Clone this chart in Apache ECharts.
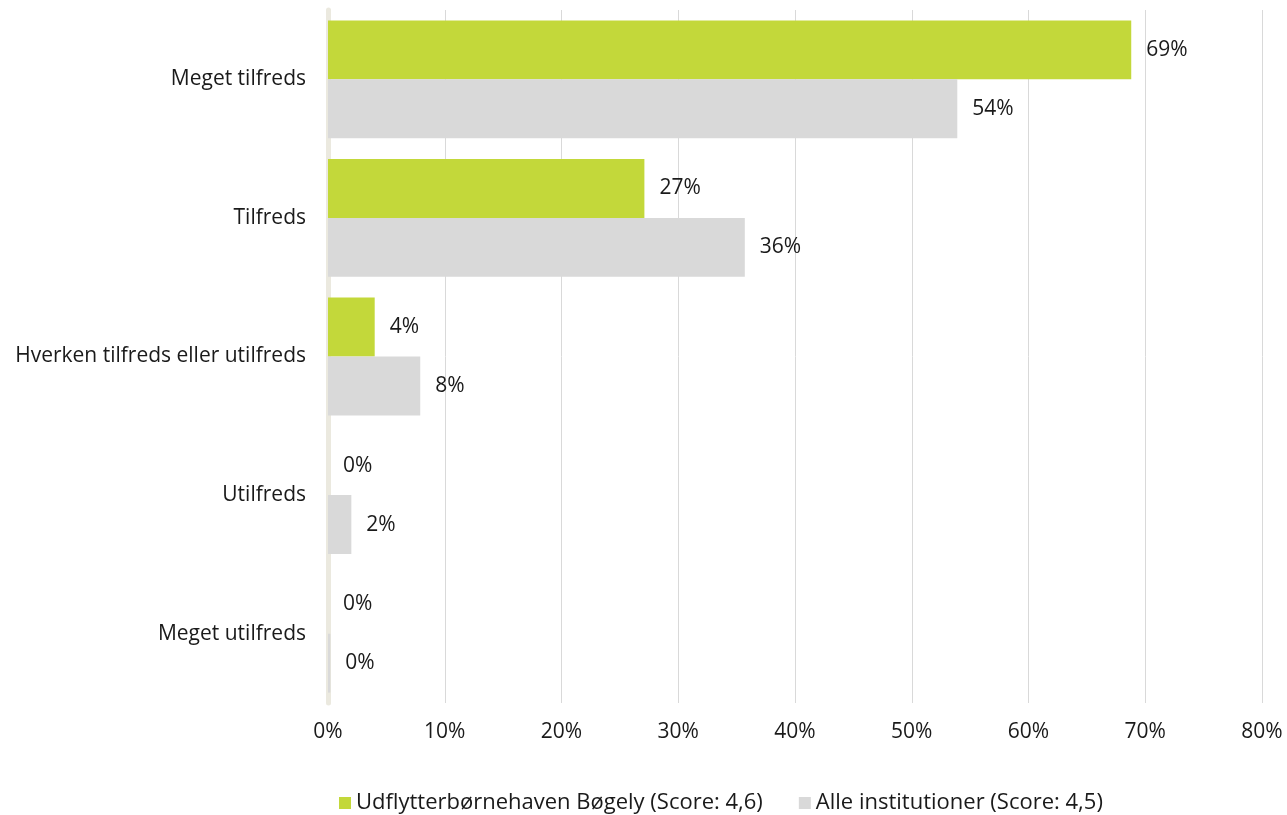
<!DOCTYPE html>
<html>
<head>
<meta charset="utf-8">
<script src="https://cdn.jsdelivr.net/npm/echarts@6/dist/echarts.min.js"></script>
<style>html,body{margin:0;padding:0;background:#fff}#c{width:1287px;height:815px}</style>
</head>
<body>
<div id="c"></div>
<script>
const categories = ["Meget tilfreds", "Tilfreds", "Hverken tilfreds eller utilfreds", "Utilfreds", "Meget utilfreds"];
const seriesNames = ["Udflytterbørnehaven Bøgely (Score: 4,6)", "Alle institutioner (Score: 4,5)"];
const boegely = [68.8, 27.1, 4.0, 0, 0];
const alle = [53.9, 35.7, 7.9, 2.0, 0.2];
const xTicks = [0, 10, 20, 30, 40, 50, 60, 70, 80];

const FONT = "Open Sans";
const FS = 21;
const chart = echarts.init(document.getElementById('c'));
const labelCfg = {
  show: true, position: 'right', distance: 15,
  formatter: p => Math.round(p.value) + '%',
  color: '#1a1a1a', fontSize: FS, fontFamily: FONT
};
chart.setOption({
  animation: false,
  textStyle: { fontFamily: FONT },
  grid: { left: 328, right: 25, top: 10, bottom: 112, containLabel: false },
  legend: {
    top: 792, left: 339, itemWidth: 12, itemHeight: 12, itemGap: 36,
    icon: 'rect', padding: 0,
    textStyle: { fontSize: 22, color: '#1a1a1a', fontFamily: FONT },
    data: seriesNames
  },
  xAxis: {
    type: 'value', min: xTicks[0], max: xTicks[xTicks.length - 1], interval: 10,
    axisLabel: { formatter: '{value}%', fontSize: FS, color: '#1a1a1a', margin: 19, fontFamily: FONT },
    axisLine: { show: false }, axisTick: { show: false },
    splitLine: { lineStyle: { color: '#d9d9d9', width: 1 } }
  },
  yAxis: {
    type: 'category', data: categories, inverse: true,
    axisLine: { show: true, lineStyle: { color: '#ebe9df', width: 5 } },
    axisTick: { show: false },
    axisLabel: { fontSize: FS, color: '#1a1a1a', margin: 22, fontFamily: FONT }
  },
  series: [
    { name: seriesNames[0], type: 'bar', data: boegely, barGap: '0%', barCategoryGap: '15%',
      itemStyle: { color: '#c3d83a' }, label: labelCfg },
    { name: seriesNames[1], type: 'bar', data: alle, barGap: '0%', barCategoryGap: '15%',
      itemStyle: { color: '#d9d9d9' }, label: labelCfg }
  ]
});
</script>
</body>
</html>
